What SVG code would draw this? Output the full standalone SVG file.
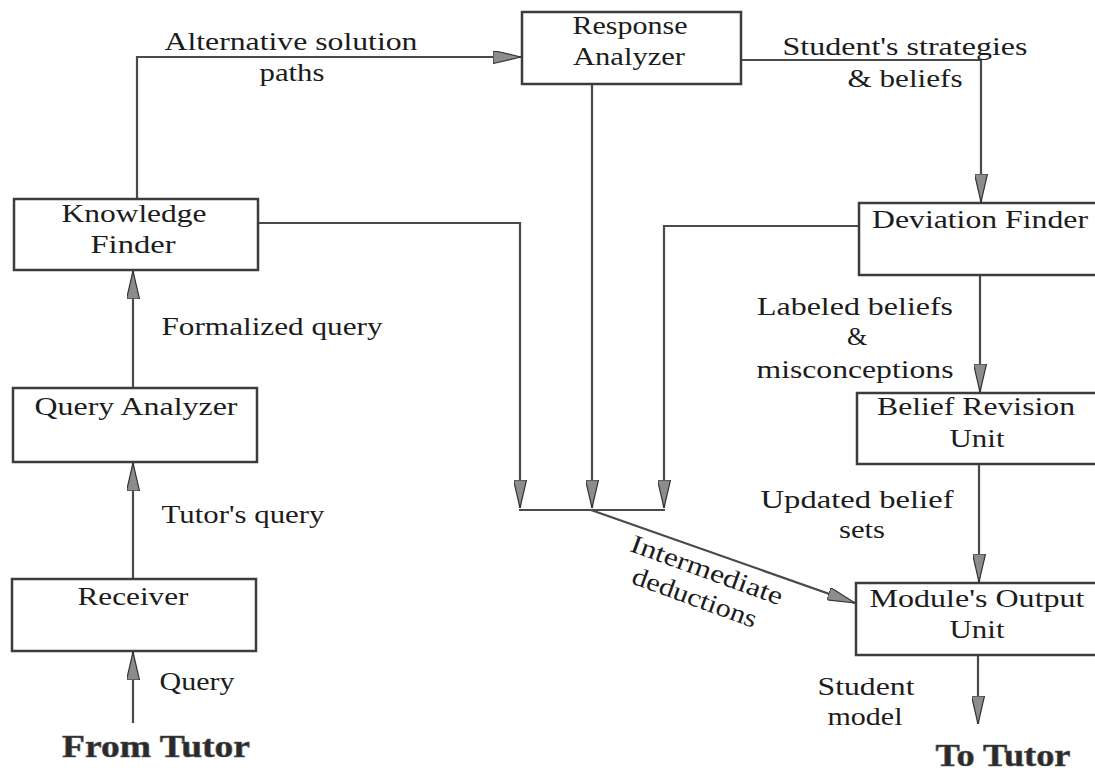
<svg xmlns="http://www.w3.org/2000/svg" width="1095" height="775" viewBox="0 0 1095 775">
  <style>
    .box { fill: #ffffff; stroke: #3c3c3c; stroke-width: 2.5; }
    .wire { fill: none; stroke: #4a4a4a; stroke-width: 2.2; }
    .lbl { font-family: "Liberation Serif", "Times New Roman", serif; font-size: 26px; fill: #1c1c1c; text-anchor: middle; }
    .big { font-family: "Liberation Serif", "Times New Roman", serif; font-size: 32px; font-weight: bold; fill: #2a2a2a; stroke: #555; stroke-width: 0.6; text-anchor: middle; }
  </style>
  <defs>
    <marker id="arrow" viewBox="0 0 28 13" markerWidth="28" markerHeight="13" refX="28" refY="6.5" orient="auto" markerUnits="userSpaceOnUse">
      <path d="M0,0 L28,6.5 L0,13 Z" fill="#8c8c8c" stroke="#333" stroke-width="1.2"/>
    </marker>
  </defs>
  <rect width="1095" height="775" fill="#ffffff"/>

  <!-- connectors -->
  <g id="connectors">
    <!-- From Tutor -> Receiver -->
    <path class="wire" d="M133,723 L133,652" marker-end="url(#arrow)"/>
    <!-- Receiver -> Query Analyzer -->
    <path class="wire" d="M133,579 L133,463" marker-end="url(#arrow)"/>
    <!-- Query Analyzer -> Knowledge Finder -->
    <path class="wire" d="M133,388 L133,271" marker-end="url(#arrow)"/>
    <!-- Knowledge Finder -> Response Analyzer -->
    <path class="wire" d="M137,199 L137,57 L521,57" marker-end="url(#arrow)"/>
    <!-- Response Analyzer -> Deviation Finder -->
    <path class="wire" d="M741,60 L981,60 L981,202" marker-end="url(#arrow)"/>
    <!-- Knowledge Finder -> collector -->
    <path class="wire" d="M258,223 L520,223 L520,508" marker-end="url(#arrow)"/>
    <!-- Response Analyzer -> collector -->
    <path class="wire" d="M592,84 L592,508" marker-end="url(#arrow)"/>
    <!-- Deviation Finder -> collector -->
    <path class="wire" d="M859,226 L664,226 L664,508" marker-end="url(#arrow)"/>
    <!-- collector bar -->
    <path class="wire" d="M519,510 L665,510"/>
    <!-- collector -> Module's Output Unit -->
    <path class="wire" d="M591,510 L855,603" marker-end="url(#arrow)"/>
    <!-- Deviation Finder -> Belief Revision Unit -->
    <path class="wire" d="M980,275 L980,392" marker-end="url(#arrow)"/>
    <!-- Belief Revision Unit -> Module's Output Unit -->
    <path class="wire" d="M979,464 L979,582" marker-end="url(#arrow)"/>
    <!-- Module's Output Unit -> To Tutor -->
    <path class="wire" d="M978,655 L978,724" marker-end="url(#arrow)"/>
  </g>

  <!-- nodes -->
  <g id="knowledge-finder">
    <rect class="box" x="14" y="199" width="244" height="71"/>
    <text class="lbl" x="134" y="222" textLength="145" lengthAdjust="spacingAndGlyphs">Knowledge</text>
    <text class="lbl" x="133" y="253" textLength="85" lengthAdjust="spacingAndGlyphs">Finder</text>
  </g>
  <g id="response-analyzer">
    <rect class="box" x="522" y="12" width="219" height="72"/>
    <text class="lbl" x="630" y="34" textLength="115" lengthAdjust="spacingAndGlyphs">Response</text>
    <text class="lbl" x="629" y="65" textLength="112" lengthAdjust="spacingAndGlyphs">Analyzer</text>
  </g>
  <g id="deviation-finder">
    <rect class="box" x="859" y="203" width="242" height="72"/>
    <text class="lbl" x="980" y="228" textLength="216" lengthAdjust="spacingAndGlyphs">Deviation Finder</text>
  </g>
  <g id="query-analyzer">
    <rect class="box" x="13" y="388" width="244" height="74"/>
    <text class="lbl" x="136" y="415" textLength="203" lengthAdjust="spacingAndGlyphs">Query Analyzer</text>
  </g>
  <g id="receiver">
    <rect class="box" x="12" y="579" width="244" height="72"/>
    <text class="lbl" x="133" y="605" textLength="111" lengthAdjust="spacingAndGlyphs">Receiver</text>
  </g>
  <g id="belief-revision-unit">
    <rect class="box" x="857" y="393" width="242" height="71"/>
    <text class="lbl" x="976" y="415" textLength="198" lengthAdjust="spacingAndGlyphs">Belief Revision</text>
    <text class="lbl" x="977" y="447" textLength="55" lengthAdjust="spacingAndGlyphs">Unit</text>
  </g>
  <g id="module-output-unit">
    <rect class="box" x="856" y="583" width="242" height="72"/>
    <text class="lbl" x="977" y="607" textLength="215" lengthAdjust="spacingAndGlyphs">Module's Output</text>
    <text class="lbl" x="977" y="638" textLength="55" lengthAdjust="spacingAndGlyphs">Unit</text>
  </g>
  <g id="from-tutor">
    <text class="big" x="156" y="757" textLength="188" lengthAdjust="spacingAndGlyphs">From Tutor</text>
  </g>
  <g id="to-tutor">
    <text class="big" x="1003" y="766" textLength="135" lengthAdjust="spacingAndGlyphs">To Tutor</text>
  </g>

  <!-- connector labels -->
  <g id="labels">
    <text class="lbl" x="291" y="50" textLength="253" lengthAdjust="spacingAndGlyphs">Alternative solution</text>
    <text class="lbl" x="292" y="81" textLength="65" lengthAdjust="spacingAndGlyphs">paths</text>
    <text class="lbl" x="905" y="55" textLength="245" lengthAdjust="spacingAndGlyphs">Student's strategies</text>
    <text class="lbl" x="905" y="87" textLength="115" lengthAdjust="spacingAndGlyphs">&amp; beliefs</text>
    <text class="lbl" x="272" y="335" textLength="221" lengthAdjust="spacingAndGlyphs">Formalized query</text>
    <text class="lbl" x="243" y="523" textLength="163" lengthAdjust="spacingAndGlyphs">Tutor's query</text>
    <text class="lbl" x="197" y="690" textLength="75" lengthAdjust="spacingAndGlyphs">Query</text>
    <text class="lbl" x="855" y="315" textLength="196" lengthAdjust="spacingAndGlyphs">Labeled beliefs</text>
    <text class="lbl" x="857" y="345">&amp;</text>
    <text class="lbl" x="855" y="378" textLength="197" lengthAdjust="spacingAndGlyphs">misconceptions</text>
    <text class="lbl" x="857" y="508" textLength="193" lengthAdjust="spacingAndGlyphs">Updated belief</text>
    <text class="lbl" x="862" y="538" textLength="46" lengthAdjust="spacingAndGlyphs">sets</text>
    <text class="lbl" x="866" y="695" textLength="97" lengthAdjust="spacingAndGlyphs">Student</text>
    <text class="lbl" x="865" y="725" textLength="75" lengthAdjust="spacingAndGlyphs">model</text>
    <g transform="translate(704,578) rotate(20)">
      <text class="lbl" x="0" y="0" textLength="160" lengthAdjust="spacingAndGlyphs">Intermediate</text>
      <text class="lbl" x="-2" y="30" textLength="131" lengthAdjust="spacingAndGlyphs">deductions</text>
    </g>
  </g>
</svg>
